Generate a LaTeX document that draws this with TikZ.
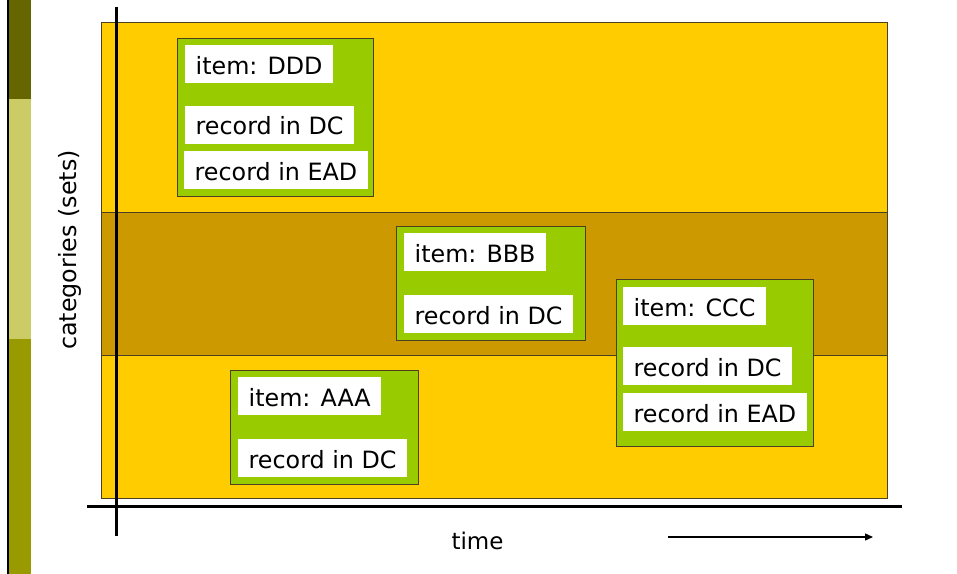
\documentclass[tikz,border=0pt]{standalone}
\usepackage{fontspec}
\setmainfont{DejaVu Sans}
\usetikzlibrary{arrows.meta}
\definecolor{orng}{HTML}{FFCC00}
\definecolor{drkband}{HTML}{CC9900}
\definecolor{grn}{HTML}{99CC00}
\definecolor{barA}{HTML}{666600}
\definecolor{barB}{HTML}{CCCC66}
\definecolor{barC}{HTML}{999900}
\definecolor{edge}{HTML}{4D4020}
\begin{document}
\begin{tikzpicture}[x=1bp,y=-1bp,
  lbl/.style={fill=white, anchor=north west, inner xsep=10.5bp, inner ysep=0pt,
    text height=29bp, text depth=9bp, font=\fontsize{23.8bp}{28bp}\selectfont},
  itembox/.style={fill=grn, draw=edge, line width=0.8bp, anchor=north west,
    inner sep=0pt},
  band/.style={draw=edge, line width=0.8bp},
  axis/.style={line width=2.5bp, black},
  axlabel/.style={font=\fontsize{23.8bp}{28bp}\selectfont}]
\useasboundingbox (0,0) rectangle (957,574);
% left decoration bar
\fill[barA] (9,0) rectangle (31,99);
\fill[barB] (9,99) rectangle (31,339);
\fill[barC] (9,339) rectangle (31,574);
\draw[line width=2.2bp] (8,0) -- (8,574);
% bands
\filldraw[band, fill=orng] (101,22.5) rectangle (887.5,212);
\filldraw[band, fill=drkband] (101,212) rectangle (887.5,355);
\filldraw[band, fill=orng] (101,355) rectangle (887.5,498.5);
% item boxes
\node[itembox, minimum width=196bp, minimum height=158bp] (boxD) at (177,38) {};
\node[itembox, minimum width=189bp, minimum height=114bp] (boxB) at (396,226) {};
\node[itembox, minimum width=197bp, minimum height=167bp] (boxC) at (615.5,279) {};
\node[itembox, minimum width=188bp, minimum height=114bp] (boxA) at (230,370) {};
% labels
\node[lbl] (d1) at (185,45) {item: DDD};
\node[lbl] (d2) at (185,105.5) {record in DC};
\node[lbl] (d3) at (184,151) {record in EAD};
\node[lbl] (b1) at (404,233) {item: BBB};
\node[lbl] (b2) at (404,295) {record in DC};
\node[lbl] (c1) at (623,287) {item: CCC};
\node[lbl] (c2) at (623,347) {record in DC};
\node[lbl] (c3) at (623,393) {record in EAD};
\node[lbl] (a1) at (238,377) {item: AAA};
\node[lbl] (a2) at (238,439) {record in DC};
% axes
\coordinate (ytop) at (116.5,7);
\coordinate (ybot) at (116.5,536);
\coordinate (xl) at (87,506.5);
\coordinate (xr) at (902,506.5);
\draw[axis] (ytop) -- (ybot);
\draw[axis] (xl) -- (xr);
\node[axlabel, rotate=90] (catlbl) at (70,250) {categories (sets)};
\node[axlabel, font=\fontsize{23bp}{28bp}\selectfont] (timelbl) at (477.5,541) {time};
\coordinate (ta) at (668,537);
\coordinate (tb) at (873,537);
\draw[line width=1.3bp, -{Triangle[length=8bp,width=7bp]}] (ta) -- (tb);
\end{tikzpicture}
\end{document}
